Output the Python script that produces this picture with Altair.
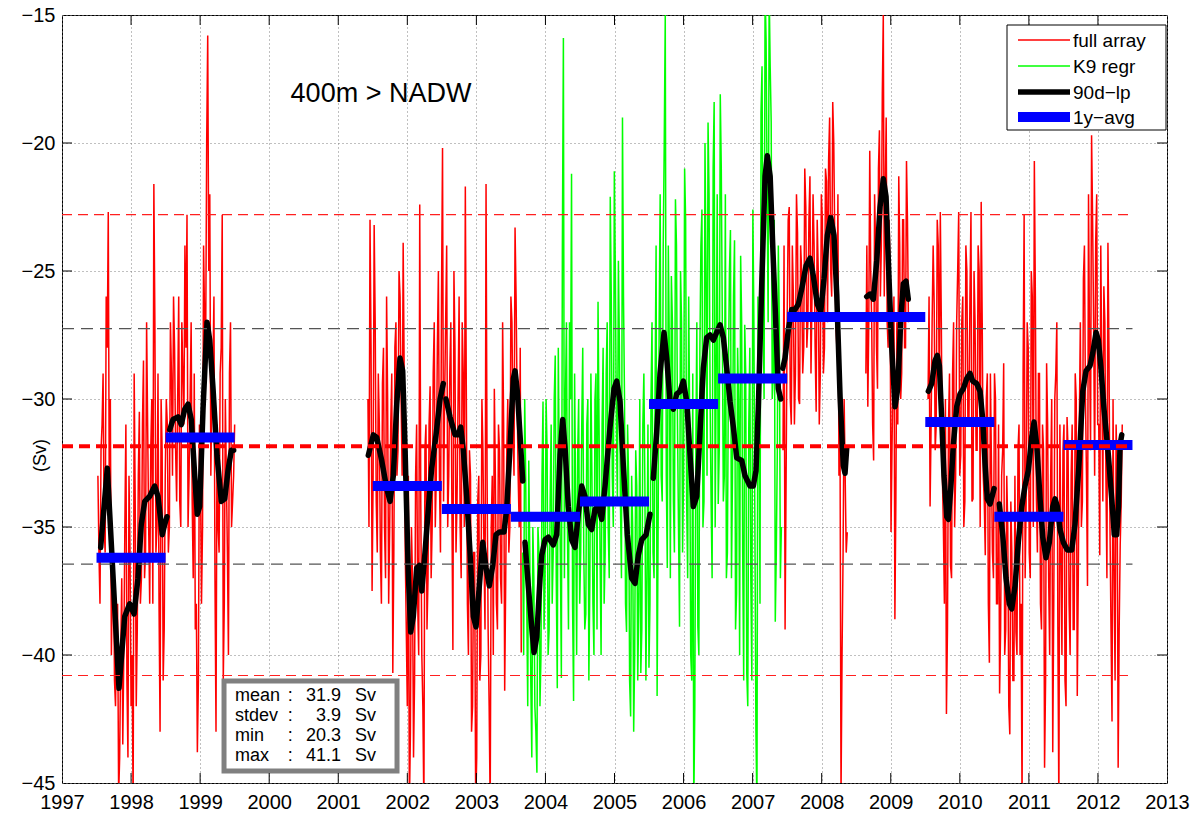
import altair as alt
import pandas as pd

# ---------------- axes ----------------
X_TICKS = list(range(1997, 2014))
Y_TICKS = [-45, -40, -35, -30, -25, -20, -15]
X_TICKS_INNER = list(range(1998, 2013))
Y_TICKS_INNER = [-40, -35, -30, -25, -20]

SERIES = ["full array", "K9 regr", "90d\u2212lp", "1y\u2212avg"]
SERIES_COLORS = ["#ff0000", "#00ff00", "#000000", "#0000ff"]
SERIES_WIDTHS = [1.5, 1.5, 5.5, 10]

# ---------------- raw series (sampled values read off the picture) ----------------
# each segment has two interleaved sample sets (A at start + i*step, B half a step later)
RED_1 = [-33, -38, -31, -35, -26, -22.7, -30, -37, -41, -39, -45.5, -40, -43.5, -35, -41, -33, -42, -46,
         -34, -39, -30.5, -37, -28.5, -36, -31, -38, -30, -21.6, -36, -29, -43, -32, -39, -30, -36, -27,
         -33, -28, -34, -26, -35, -29, -24, -22.8, -33, -27, -37, -39, -43.8, -31, -38, -24, -28, -15.8,
         -22, -30, -26, -43, -35, -29, -22.8, -38, -33, -40, -27, -34, -31]
RED_1B = [-36, -32, -29, -36, -28, -34, -40, -36, -42, -38, -44, -37, -40, -31, -44, -36, -40, -29,
          -42, -33, -38, -31, -37, -27, -35, -32, -38, -27, -35, -38, -30, -41, -33, -31, -35, -29,
          -26, -32, -30, -34, -27, -31, -28, -35, -30, -34, -29, -38, -41, -33, -35, -27, -20, -25,
          -33, -29, -37, -31, -36, -28, -41, -30, -36, -29, -35, -33]
RED_2 = [-30, -23, -37.5, -23.2, -34, -29, -36, -29.4, -35, -26,
         -38, -31, -40.7, -28, -33, -25, -30, -23.9, -36, -42,
         -46, -35, -44, -33, -38, -22.4, -40, -46, -31, -37,
         -29.5, -35, -27, -33, -25, -36, -20.2, -30, -24, -33,
         -27, -39.8, -28, -34, -26, -37, -29, -21.7, -38, -32,
         -43, -36, -46, -34, -41, -30, -36, -21.6, -39, -46,
         -33, -29.6, -38, -31, -37, -27, -41.4, -32, -36, -26,
         -31, -23.3, -30, -35, -39.9]
RED_2B = [-35, -28, -33, -27, -36, -31, -38, -28, -37, -30,
          -35, -29, -36, -27, -32, -26, -33, -29, -39, -33,
          -43, -37, -41, -31, -40, -34, -42, -32, -39, -31,
          -37, -29, -35, -28, -33, -26, -34, -27, -35, -29,
          -34, -25, -36, -30, -35, -27, -35, -30, -40, -33,
          -42, -36, -44, -33, -40, -32, -39, -33, -42, -35,
          -40, -33, -39, -32, -38, -31, -37, -30, -35, -27,
          -33, -26, -33, -28]
GREEN_1 = [-36, -30, -38, -32.4, -41, -35, -42, -44.6, -36, -40,
           -30.1, -37, -32, -39, -31, -36, -28.3, -41.3, -33, -40.9,
           -15.9, -30, -35.1, -27, -21.2, -41.8, -34, -32.2, -38, -31.1,
           -36, -38.4, -30, -37, -33, -40.0, -29, -26.2, -36, -31,
           -38.0, -29, -35, -22.1, -33, -21.1, -31, -24.6, -34, -19.0,
           -30, -39.1, -33, -42.4, -35, -40, -33.4, -38, -40.7, -31,
           -33.4, -37, -40.5, -30, -36, -29.6, -41.6, -27, -33, -24,
           -15, -36.6, -28, -25.2, -34, -22.2, -31, -38.9, -27, -33,
           -23.0, -37, -31, -41, -46, -32, -38.9, -28, -22.6, -34,
           -25, -19.2, -30, -37.0, -18.4, -29, -34.1, -18.1, -27, -33,
           -37.0, -29, -23.4, -33, -23.8, -37.6, -30, -24.4, -36, -27.1,
           -40.7, -31, -37, -22.6, -35, -46, -30, -18.8, -26, -14,
           -22, -14, -19.2, -29, -38.7, -32, -27.1, -35]
GREEN_1B = [-40, -33, -42, -36, -44, -37, -43, -35, -42, -33,
            -39, -30, -40, -34, -38, -30, -37, -28, -36, -24,
            -37, -27, -39, -30, -38, -29, -40, -30, -36, -28,
            -39, -31, -41, -29, -38, -30, -39, -31, -40, -28,
            -36, -27, -37, -26, -35, -25, -34, -28, -37, -26,
            -38, -31, -41, -33, -43, -32, -41, -30, -39, -29,
            -41, -31, -38, -27, -37, -24, -35, -22, -34, -20,
            -33, -24, -37, -27, -36, -24, -35, -25, -36, -21,
            -34, -26, -40, -29, -42, -27, -40, -24, -35, -20,
            -33, -22, -34, -21, -35, -22, -32, -21, -34, -22,
            -36, -25, -37, -26, -39, -28, -40, -27, -41, -29,
            -42, -28, -41, -27, -43, -26, -38, -17, -30, -16,
            -27, -17, -30, -23, -36, -24, -37]
RED_3 = [-32, -39, -27, -22.5, -31, -26, -29, -23.5, -30.2, -25,
         -28, -22.5, -27, -21.3, -26, -24, -30.5, -25, -29, -23,
         -28, -21.5, -20.7, -25, -18.4, -24, -28, -33, -45.5, -36,
         -33, -35.2]
RED_3B = [-24, -33, -23, -30, -24, -31, -22, -30, -24, -29,
          -21, -28, -23, -29, -22, -28, -23, -31, -22, -29,
          -21, -27, -19, -26, -20, -27, -22, -31, -40, -30,
          -36]
RED_4 = [-29, -30.3, -20.3, -27, -32.4, -24, -29.6, -19.5, -24, -15, -22, -27, -23, -35.2, -29, -38.6,
         -27, -21.3, -30, -23, -28, -20.7, -27]
RED_4B = [-24, -27, -25, -31, -22, -28, -21, -26, -18, -26, -19, -28, -25, -32, -26, -34,
          -31, -24, -29, -23, -28, -23]
RED_5 = [-30, -34.2, -27, -26.3, -31, -24, -22.7, -33, -38, -42.3,
         -31, -36.5, -29, -35, -27, -22.7, -32.2, -26, -34, -25,
         -31, -22.7, -33.9, -27, -32, -25, -22.3, -33, -36.1, -29,
         -40.3, -32.4, -37, -30, -38, -41.5, -33, -28.6, -39, -35,
         -43.1, -36, -41, -39.1, -32, -40, -46, -22.8, -34, -28,
         -37, -26, -20.7, -33.9, -29, -38, -31, -44.4, -28.6, -37,
         -33, -43.8, -30, -27, -46, -36, -32, -41, -30.7, -38,
         -33, -39, -29, -41.6, -31, -35, -25.3, -30, -37.3, -28,
         -19.7, -27, -23.9, -31, -36.1, -29, -25.6, -33, -23.9, -35,
         -42.6, -37, -31, -44.4, -35.7, -31]
RED_5B = [-26, -31, -24, -32, -23, -30, -27, -35, -30, -39,
          -29, -37, -27, -33, -25, -33, -27, -35, -24, -31,
          -26, -34, -25, -32, -24, -35, -27, -34, -30, -38,
          -29, -36, -29, -38, -31, -39, -32, -40, -33, -42,
          -34, -41, -33, -40, -31, -38, -29, -37, -27, -36,
          -25, -35, -26, -36, -29, -39, -32, -41, -31, -40,
          -30, -38, -29, -39, -31, -40, -31, -42, -32, -40,
          -31, -39, -30, -37, -27, -34, -24, -33, -22, -32,
          -23, -33, -22, -31, -24, -34, -27, -37, -28, -39,
          -30, -41, -33, -39, -34]

# (series, first sample year, sampling step in years, values A, values B)
RAW_SEGMENTS = [
    ("full array", 1997.52, 0.03, RED_1, RED_1B),
    ("full array", 2001.43, 0.03, RED_2, RED_2B),
    ("K9 regr", 2003.67, 0.0295, GREEN_1, GREEN_1B),
    ("full array", 2007.44, 0.03, RED_3, RED_3B),
    ("full array", 2008.64, 0.028, RED_4, RED_4B),
    ("full array", 2009.54, 0.0296, RED_5, RED_5B),
]

# ---------------- 90-day low-pass (black) ----------------
LP_1_T = [1997.560, 1997.656, 1997.825, 1997.908, 1997.980, 1998.043, 1998.100, 1998.148, 1998.198,
          1998.270, 1998.342, 1998.390, 1998.423, 1998.452, 1998.487, 1998.520]
LP_1_V = [-35.8, -32.7, -41.3, -38.5, -38.0, -38.4, -37.0, -34.9, -34.0, -33.8, -33.4, -33.8, -34.6,
          -35.3, -34.9, -34.6]
LP_2_T = [1998.560, 1998.607, 1998.680, 1998.727, 1998.777, 1998.825, 1998.872, 1998.922, 1998.959,
          1998.994, 1999.042, 1999.100, 1999.139, 1999.187, 1999.244, 1999.307, 1999.356, 1999.404,
          1999.452, 1999.486]
LP_2_V = [-31.2, -30.8, -30.7, -31.0, -30.4, -30.2, -30.8, -33.0, -34.5, -34.2, -30.4, -27.0, -27.7,
          -29.6, -32.2, -34.0, -33.9, -32.8, -32.0, -32.0]
LP_3_T = [2001.435, 2001.508, 2001.557, 2001.629, 2001.702, 2001.750, 2001.797, 2001.847, 2001.894,
          2001.933, 2001.967, 2002.014, 2002.049, 2002.087, 2002.136, 2002.174, 2002.209, 2002.256,
          2002.304, 2002.353, 2002.416, 2002.474, 2002.521]
LP_3_V = [-32.2, -31.4, -31.5, -32.4, -33.5, -34.0, -33.0, -30.2, -28.4, -28.9, -31.9, -36.8, -39.1,
          -38.5, -36.6, -36.5, -37.5, -36.0, -34.3, -32.7, -31.4, -30.0, -29.4]
LP_4_T = [2002.560, 2002.618, 2002.691, 2002.739, 2002.773, 2002.811, 2002.860, 2002.908, 2002.956,
          2002.995, 2003.043, 2003.092, 2003.140, 2003.187, 2003.237, 2003.284, 2003.332, 2003.400,
          2003.439, 2003.487, 2003.535, 2003.560, 2003.593, 2003.632, 2003.671]
LP_4_V = [-30.0, -30.7, -31.4, -31.4, -31.1, -32.0, -33.8, -36.0, -38.5, -38.9, -37.3, -35.6, -36.6,
          -37.3, -36.5, -35.3, -35.2, -35.2, -34.3, -31.9, -29.2, -28.9, -29.7, -31.4, -33.2]
LP_5_T = [2003.704, 2003.752, 2003.801, 2003.835, 2003.874, 2003.922, 2003.946, 2003.994, 2004.042,
          2004.114, 2004.163, 2004.211, 2004.250, 2004.284, 2004.331, 2004.380, 2004.428, 2004.476,
          2004.525, 2004.573, 2004.621, 2004.670, 2004.718, 2004.766, 2004.815, 2004.863, 2004.935,
          2004.993, 2005.032, 2005.080, 2005.128, 2005.186, 2005.249, 2005.297, 2005.345, 2005.394,
          2005.457, 2005.514]
LP_5_V = [-35.6, -37.3, -38.9, -39.9, -39.3, -37.0, -36.1, -35.5, -35.4, -35.7, -35.3, -32.2, -30.8,
          -31.9, -34.2, -35.5, -35.8, -34.5, -33.4, -33.8, -34.9, -35.1, -34.3, -34.2, -34.7, -33.4,
          -31.1, -29.6, -29.3, -30.1, -32.6, -35.3, -37.0, -37.2, -36.1, -35.5, -35.3, -34.5]
LP_6_T = [2005.562, 2005.611, 2005.659, 2005.717, 2005.756, 2005.804, 2005.852, 2005.901, 2005.949,
          2005.997, 2006.046, 2006.094, 2006.141, 2006.191, 2006.238, 2006.286, 2006.335, 2006.383,
          2006.431, 2006.480, 2006.528, 2006.576, 2006.625, 2006.673, 2006.721, 2006.770, 2006.842,
          2006.890, 2006.962, 2007.010, 2007.049, 2007.083, 2007.132, 2007.180, 2007.213, 2007.254,
          2007.291, 2007.339, 2007.372, 2007.407]
LP_6_V = [-33.1, -31.3, -29.0, -27.4, -28.4, -30.1, -30.4, -29.8, -29.7, -29.3, -30.1, -32.2, -34.2,
          -33.8, -31.3, -28.8, -27.6, -27.5, -27.7, -27.4, -27.1, -27.6, -28.8, -30.1, -31.1, -32.3,
          -32.4, -33.0, -33.4, -33.4, -32.8, -30.3, -25.5, -21.3, -20.5, -21.3, -24.0, -27.3, -29.6,
          -30.0]
LP_7_T = [2007.436, 2007.469, 2007.517, 2007.566, 2007.614, 2007.662, 2007.711, 2007.773, 2007.831,
          2007.879, 2007.937, 2007.986, 2008.034, 2008.082, 2008.131, 2008.178, 2008.218, 2008.266,
          2008.313, 2008.338, 2008.363]
LP_7_V = [-28.8, -28.4, -27.3, -26.5, -26.5, -26.3, -25.7, -24.8, -24.5, -25.2, -26.3, -26.6, -25.3,
          -23.6, -22.9, -23.6, -25.9, -29.9, -32.6, -32.9, -31.9]
LP_8_T = [2008.652, 2008.700, 2008.748, 2008.797, 2008.845, 2008.893, 2008.932, 2008.965, 2009.014,
          2009.062, 2009.101, 2009.145, 2009.182, 2009.221, 2009.254]
LP_8_V = [-26.0, -25.9, -26.1, -24.6, -22.5, -21.4, -22.1, -24.6, -28.0, -30.3, -29.6, -26.9, -25.5,
          -25.4, -26.1]
LP_9_T = [2009.544, 2009.593, 2009.641, 2009.675, 2009.704, 2009.738, 2009.771, 2009.811, 2009.834,
          2009.869, 2009.906, 2009.955, 2010.003, 2010.051, 2010.100, 2010.148, 2010.187, 2010.245,
          2010.293, 2010.332, 2010.365, 2010.398, 2010.438, 2010.477, 2010.496]
LP_9_V = [-29.7, -29.4, -28.5, -28.3, -28.7, -30.8, -33.0, -34.6, -34.7, -33.5, -31.8, -30.3, -29.8,
          -29.6, -29.2, -29.0, -29.3, -29.4, -29.7, -30.8, -32.5, -33.9, -34.1, -33.7, -33.5]
LP_10_T = [2010.572, 2010.621, 2010.669, 2010.717, 2010.752, 2010.800, 2010.847, 2010.897, 2010.944,
           2010.992, 2011.041, 2011.075, 2011.114, 2011.162, 2011.201, 2011.248, 2011.296, 2011.346,
           2011.379, 2011.412, 2011.451, 2011.499, 2011.557, 2011.620, 2011.668, 2011.731, 2011.780,
           2011.828, 2011.886, 2011.925, 2011.973, 2012.006, 2012.041, 2012.088, 2012.151, 2012.200,
           2012.237, 2012.272, 2012.298, 2012.320, 2012.345]
LP_10_V = [-34.1, -35.3, -37.0, -38.0, -38.2, -37.3, -35.6, -34.2, -33.4, -32.8, -31.5, -30.9, -31.8,
           -33.9, -35.4, -36.2, -35.6, -34.2, -33.9, -34.2, -35.1, -35.6, -35.9, -35.9, -34.9, -32.3,
           -29.7, -28.9, -28.7, -28.2, -27.4, -27.7, -28.7, -30.4, -32.2, -33.9, -35.3, -35.3, -34.2,
           -31.8, -31.4]
LP_SEGMENTS = [(LP_1_T, LP_1_V), (LP_2_T, LP_2_V), (LP_3_T, LP_3_V), (LP_4_T, LP_4_V),
               (LP_5_T, LP_5_V), (LP_6_T, LP_6_V), (LP_7_T, LP_7_V), (LP_8_T, LP_8_V),
               (LP_9_T, LP_9_V), (LP_10_T, LP_10_V)]

# ---------------- 1-year averages (blue) ----------------
AVG_FROM = [1997.5, 1998.5, 2001.5, 2002.5, 2003.5, 2004.5, 2005.5, 2006.5, 2007.5, 2009.5, 2010.5, 2011.5]
AVG_TO = [1998.5, 1999.5, 2002.5, 2003.5, 2004.5, 2005.5, 2006.5, 2007.5, 2009.5, 2010.5, 2011.5, 2012.5]
AVG_VALUE = [-36.2, -31.5, -33.4, -34.3, -34.6, -34.0, -30.2, -29.2, -26.8, -30.9, -34.6, -31.8]

# ---------------- reference levels ----------------
REF_FROM, REF_TO = 1997.0, 2012.5
MEAN_LEVEL = [-31.85]
STD1_LEVELS = [-27.25, -36.45]
STD2_LEVELS = [-22.8, -40.8]

# ---------------- annotation ----------------
TITLE_TEXT = "400m > NADW"
STAT_NAMES = ["mean", "stdev", "min", "max"]
STAT_VALUES = ["31.9", "3.9", "20.3", "41.1"]
STAT_UNIT = "Sv"

# ================= build tables =================
raw_rows = []
for k, (name, start, step, vals_a, vals_b) in enumerate(RAW_SEGMENTS):
    for i, val in enumerate(vals_a):
        raw_rows.append({"t": round(start + step * i, 5), "v": val, "series": name, "seg": f"r{k}"})
    for i, val in enumerate(vals_b):
        raw_rows.append({"t": round(start + step * (i + 0.5), 5), "v": val, "series": name, "seg": f"r{k}"})
raw_df = pd.DataFrame(raw_rows).sort_values("t").reset_index(drop=True)

lp_rows = []
for k, (ts, vs) in enumerate(LP_SEGMENTS):
    for t, v in zip(ts, vs):
        lp_rows.append({"t": t, "v": v, "series": SERIES[2], "seg": f"lp{k}"})
lp_df = pd.DataFrame(lp_rows)

avg_df = pd.DataFrame({"t": AVG_FROM, "t2": AVG_TO, "v": AVG_VALUE, "series": SERIES[3]})

mean_df = pd.DataFrame({"t": REF_FROM, "t2": REF_TO, "v": MEAN_LEVEL})
std1_df = pd.DataFrame({"t": REF_FROM, "t2": REF_TO, "v": STD1_LEVELS})
std2_df = pd.DataFrame({"t": REF_FROM, "t2": REF_TO, "v": STD2_LEVELS})

W, H = 1105, 768
FONT = "Liberation Sans"

x_scale = alt.Scale(domain=[1997, 2013], nice=False, zero=False)
y_scale = alt.Scale(domain=[-45, -15], nice=False, zero=False)
x_axis = alt.Axis(values=X_TICKS, format="d", title=None, grid=True, ticks=False, domain=False,
                  labelPadding=9, labelFontSize=20, labelFont=FONT, labelColor="black",
                  labelFlush=False, gridDash=[1, 3], gridColor="#808080", gridWidth=1)
y_axis = alt.Axis(values=Y_TICKS, title="(Sv)", grid=True, ticks=False, domain=False,
                  labelPadding=7, labelFontSize=20, labelFont=FONT, labelColor="black",
                  labelFlush=False, gridDash=[1, 3], gridColor="#808080", gridWidth=1,
                  titleFont=FONT, titleFontSize=18, titleFontWeight="normal", titleColor="black",
                  titleX=-22, titleY=440, titleBaseline="middle", titleAlign="center")
X = alt.X("t:Q", scale=x_scale, axis=x_axis)
Y = alt.Y("v:Q", scale=y_scale, axis=y_axis)

color = alt.Color("series:N", scale=alt.Scale(domain=SERIES, range=SERIES_COLORS), legend=None)
width_enc = alt.StrokeWidth("series:N", scale=alt.Scale(domain=SERIES, range=SERIES_WIDTHS, type="ordinal"),
                            legend=None)

raw_layer = alt.Chart(raw_df).mark_line(clip=True, strokeJoin="miter").encode(
    x=X, y=Y, color=color, strokeWidth=width_enc, detail="seg:N", order="t:Q")
lp_layer = alt.Chart(lp_df).mark_line(clip=True, strokeCap="round", strokeJoin="round").encode(
    x=X, y=Y, color=color, strokeWidth=width_enc, detail="seg:N", order="t:Q")
avg_layer = alt.Chart(avg_df).mark_rule(clip=True).encode(
    x=X, x2="t2:Q", y=Y, color=color, strokeWidth=width_enc)

std1_layer = alt.Chart(std1_df).mark_rule(color="#555555", strokeWidth=1.1, strokeDash=[12, 7]).encode(
    x=X, x2="t2:Q", y=Y)
std2_layer = alt.Chart(std2_df).mark_rule(color="#ff2020", strokeWidth=1.2, strokeDash=[10, 6]).encode(
    x=X, x2="t2:Q", y=Y)
mean_layer = alt.Chart(mean_df).mark_rule(color="#ff0000", strokeWidth=4, strokeDash=[11, 6]).encode(
    x=X, x2="t2:Q", y=Y)

# statistics box
box_df = pd.DataFrame({"t": [1999.346], "t2": [2001.851], "v": [-41.02], "v2": [-44.53]})
box_layer = alt.Chart(box_df).mark_rect(fill="white", stroke="#808080", strokeWidth=5).encode(
    x=X, x2="t2:Q", y=Y, y2="v2:Q")
row_v = [-41.8, -42.58, -43.36, -44.14]
stat_names_df = pd.DataFrame({"t": 1999.505, "v": row_v, "label": STAT_NAMES})
stat_colon_df = pd.DataFrame({"t": 2000.27, "v": row_v, "label": [":"] * 4})
stat_vals_df = pd.DataFrame({"t": 2001.04, "v": row_v, "label": STAT_VALUES})
stat_unit_df = pd.DataFrame({"t": 2001.243, "v": row_v, "label": [STAT_UNIT] * 4})
stat_text = alt.layer(
    alt.Chart(stat_names_df).mark_text(align="left", baseline="alphabetic", fontSize=18, font=FONT, color="black"
                                       ).encode(x=X, y=Y, text="label:N"),
    alt.Chart(stat_colon_df).mark_text(align="left", baseline="alphabetic", fontSize=18, font=FONT, color="black"
                                       ).encode(x=X, y=Y, text="label:N"),
    alt.Chart(stat_vals_df).mark_text(align="right", baseline="alphabetic", fontSize=18, font=FONT, color="black"
                                      ).encode(x=X, y=Y, text="label:N"),
    alt.Chart(stat_unit_df).mark_text(align="left", baseline="alphabetic", fontSize=18, font=FONT, color="black"
                                      ).encode(x=X, y=Y, text="label:N"),
)

title_df = pd.DataFrame({"t": [2000.31], "v": [-18.4], "label": [TITLE_TEXT]})
title_layer = alt.Chart(title_df).mark_text(align="left", baseline="alphabetic", fontSize=27, font=FONT,
                                            color="black").encode(x=X, y=Y, text="label:N")

# inward tick marks (MATLAB style) on all four sides
xt_df = pd.DataFrame({"t": X_TICKS_INNER})
yt_df = pd.DataFrame({"v": Y_TICKS_INNER})
TL = 10
ticks = alt.layer(
    alt.Chart(xt_df).mark_rule(color="black", strokeWidth=1).encode(x=X, y=alt.value(H), y2=alt.value(H - TL)),
    alt.Chart(xt_df).mark_rule(color="black", strokeWidth=1).encode(x=X, y=alt.value(0), y2=alt.value(TL)),
    alt.Chart(yt_df).mark_rule(color="black", strokeWidth=1).encode(y=Y, x=alt.value(0), x2=alt.value(TL)),
    alt.Chart(yt_df).mark_rule(color="black", strokeWidth=1).encode(y=Y, x=alt.value(W - TL), x2=alt.value(W)),
)

# legend box (top right, MATLAB style), swatches styled through the same colour / width scales
LEG_BOX = (945, 1104, 10, 115)        # x0, x1, y0, y1 in plot pixels
LEG_ROWS = [25, 51, 77, 102]          # row centres in plot pixels
LEG_SWATCH = (956, 1008)
LEG_TEXT_X = 1011
legend_layers = [
    alt.Chart(pd.DataFrame({"k": [0]})).mark_rect(fill="white", stroke="black", strokeWidth=1).encode(
        x=alt.value(LEG_BOX[0]), x2=alt.value(LEG_BOX[1]), y=alt.value(LEG_BOX[2]), y2=alt.value(LEG_BOX[3]))
]
for i, name in enumerate(SERIES):
    row_df = pd.DataFrame({"series": [name]})
    legend_layers.append(alt.Chart(row_df).mark_rule().encode(
        x=alt.value(LEG_SWATCH[0]), x2=alt.value(LEG_SWATCH[1]), y=alt.value(LEG_ROWS[i]),
        color=color, strokeWidth=width_enc))
    legend_layers.append(alt.Chart(row_df).mark_text(align="left", baseline="middle", fontSize=19, font=FONT,
                                                     color="black").encode(
        x=alt.value(LEG_TEXT_X), y=alt.value(LEG_ROWS[i] + 1), text="series:N"))

chart = alt.layer(
    raw_layer, lp_layer, avg_layer, std1_layer, std2_layer, mean_layer,
    box_layer, stat_text, title_layer, ticks, *legend_layers,
).properties(
    width=W, height=H,
    autosize=alt.AutoSizeParams(type="none"),
    padding={"left": 62, "top": 15, "right": 29, "bottom": 33},
    background="white",
).configure(font=FONT).configure_view(stroke="black", strokeWidth=1)

chart.save("out.html", embed_options={"renderer": "svg", "actions": False})
